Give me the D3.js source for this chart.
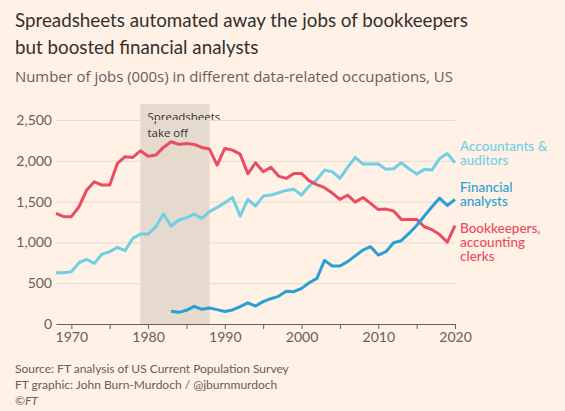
<!DOCTYPE html>
<html>
<head>
<meta charset="utf-8">
<script src="https://d3js.org/d3.v7.min.js"></script>
<style>
  body { margin: 0; background-color: #fff1e5; }
  svg { display: block; font-family: "Lato", "Open Sans", sans-serif; }
</style>
</head>
<body>
<div id="chart"></div>
<script>
// years and values (000s jobs)
var yearsAll = d3.range(1968, 2021);
var accountants = [629, 629, 641, 751, 792, 743, 857, 886, 939, 898, 1049, 1102, 1102, 1192, 1347, 1200, 1274, 1302, 1347, 1294,
  1376, 1429, 1486, 1552, 1323, 1527, 1445, 1568, 1580, 1609, 1637, 1650, 1580, 1690, 1770, 1886, 1866, 1784, 1919, 2041,
  1960, 1960, 1960, 1895, 1903, 1976, 1903, 1837, 1895, 1886, 2029, 2090, 1976];
var bookkeepers = [1356, 1315, 1315, 1437, 1641, 1743, 1703, 1703, 1968, 2050, 2041, 2123, 2055, 2070, 2164, 2233, 2201, 2213, 2201, 2164,
  2144, 1948, 2152, 2131, 2082, 1841, 1976, 1866, 1920, 1813, 1784, 1845, 1845, 1754, 1707, 1670, 1605, 1527, 1578, 1494,
  1550, 1478, 1402, 1408, 1384, 1282, 1282, 1282, 1192, 1156, 1096, 1002, 1206];
var analystYears = d3.range(1983, 2021);
var analysts = [155, 143, 168, 216, 180, 196, 176, 153, 172, 212, 259, 220, 274, 310, 339, 400, 396, 437, 506, 559,
  780, 710, 710, 764, 835, 906, 947, 845, 886, 996, 1021, 1110, 1207, 1323, 1437, 1543, 1452, 1527];
var yTicks = [0, 500, 1000, 1500, 2000, 2500];
var xLabels = [1970, 1980, 1990, 2000, 2010, 2020];
var xMinor = d3.range(1970, 2021, 5);
var shadeYears = [1979, 1988];

var width = 565, height = 411;
var svg = d3.select("#chart").append("svg")
  .attr("width", width)
  .attr("height", height);

var x = d3.scaleLinear().domain([1968, 2020]).range([56, 455]);
var y = d3.scaleLinear().domain([0, 2500]).range([324, 120]);

// set font size so the text spans roughly the width it has in the picture
function fit(t, w) {
  var size = parseFloat(t.style("font-size"));
  var len = t.node().getComputedTextLength();
  t.style("font-size", (size * w / len).toFixed(2) + "px");
  return t;
}

// Title + subtitle
var title1 = fit(svg.append("text").attr("x", 15).attr("y", 27)
  .style("font-size", "19px").style("fill", "#33302e")
  .text("Spreadsheets automated away the jobs of bookkeepers"), 453);
svg.append("text").attr("x", 15).attr("y", 54)
  .style("font-size", title1.style("font-size")).style("fill", "#33302e")
  .text("but boosted financial analysts");
fit(svg.append("text").attr("x", 15).attr("y", 82)
  .style("font-family", "'Open Sans', sans-serif")
  .style("font-size", "14px").style("fill", "#66605c")
  .text("Number of jobs (000s) in different data-related occupations, US"), 438);

// Shaded period
svg.append("rect")
  .attr("x", x(shadeYears[0]))
  .attr("y", 104)
  .attr("width", x(shadeYears[1]) - x(shadeYears[0]))
  .attr("height", y(0) - 104)
  .attr("fill", "#e6d9ce");

var ann = svg.append("text").attr("x", x(shadeYears[0]) + 7).attr("y", 121)
  .style("font-family", "'Open Sans', sans-serif")
  .style("font-size", "13px").style("fill", "#33302e");
ann.append("tspan").text("Spreadsheets");
fit(ann, 73);
ann.append("tspan").attr("x", x(shadeYears[0]) + 7).attr("dy", 16).text("take off");

// Gridlines + y labels
var yAxis = svg.append("g")
  .attr("transform", "translate(56,0)")
  .call(d3.axisLeft(y).tickValues(yTicks).tickSize(-(455 - 56)).tickPadding(4)
    .tickFormat(d3.format(",")));
yAxis.select(".domain").remove();
yAxis.selectAll(".tick line").attr("stroke", "#e6d9ce").attr("stroke-width", 1);
yAxis.selectAll(".tick text")
  .style("font-family", "Lato, sans-serif")
  .style("font-size", "14px").style("fill", "#66605c");
yAxis.selectAll(".tick").filter(function(d){ return d === 0; }).select("line").remove();

// X axis
var xAxis = svg.append("g")
  .attr("transform", "translate(0," + y(0) + ")")
  .call(d3.axisBottom(x).tickValues(xMinor).tickSize(5).tickSizeOuter(0).tickPadding(3)
    .tickFormat(function(d){ return xLabels.indexOf(d) >= 0 ? d : ""; }));
xAxis.select(".domain").attr("stroke", "#66605c");
xAxis.selectAll(".tick line").attr("stroke", "#66605c");
xAxis.selectAll(".tick text")
  .style("font-family", "Lato, sans-serif")
  .style("font-size", "14px").style("fill", "#66605c");

// Lines
var line = d3.line()
  .x(function(d){ return x(d[0]); })
  .y(function(d){ return y(d[1]); });

function drawSeries(years, vals, color) {
  svg.append("path")
    .datum(d3.zip(years, vals))
    .attr("d", line)
    .attr("fill", "none")
    .attr("stroke", color)
    .attr("stroke-width", 3)
    .attr("stroke-linejoin", "round");
}
drawSeries(yearsAll, accountants, "#6fd0e4");
drawSeries(yearsAll, bookkeepers, "#ea4c61");
drawSeries(analystYears, analysts, "#2a9fd6");

// Series labels, one text per label with a tspan per line
function label(lines, yTop, color) {
  var t = svg.append("text").attr("x", 460).attr("y", yTop)
    .style("font-size", "13.5px").style("font-weight", "500")
    .style("fill", color);
  lines.forEach(function(s, i){
    t.append("tspan").attr("x", 460).attr("dy", i ? 14 : 0).text(s);
  });
}
label(["Accountants &", "auditors"], 151, "#6fd0e4");
label(["Financial", "analysts"], 192, "#2a9fd6");
label(["Bookkeepers,", "accounting", "clerks"], 233, "#ea4c61");

// Footer
var foot = svg.append("text").attr("x", 15).attr("y", 373)
  .style("font-size", "12px").style("fill", "#66605c");
foot.append("tspan").attr("x", 15).text("Source: FT analysis of US Current Population Survey");
foot.append("tspan").attr("x", 15).attr("dy", 16).text("FT graphic: John Burn-Murdoch / @jburnmurdoch");
foot.append("tspan").attr("x", 15).attr("dy", 16).style("font-style", "italic").text("\u00a9FT");
</script>
</body>
</html>
